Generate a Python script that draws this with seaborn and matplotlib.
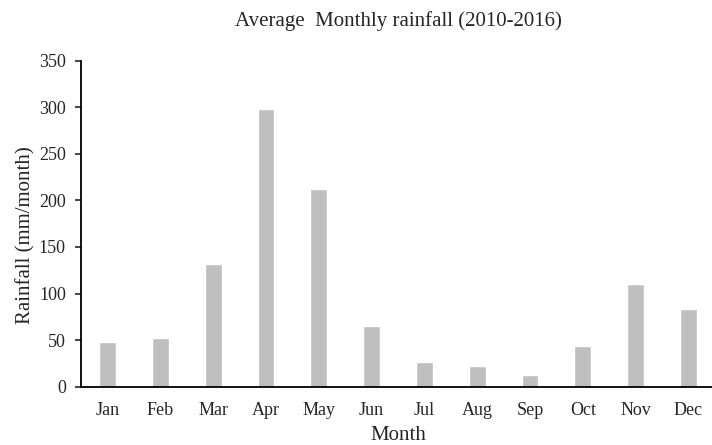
import matplotlib
matplotlib.use("Agg")
import matplotlib.pyplot as plt
import seaborn as sns
import pandas as pd

# Average monthly rainfall (mm/month), 2010-2016
thang = ["Jan", "Feb", "Mar", "Apr", "May", "Jun",
         "Jul", "Aug", "Sep", "Oct", "Nov", "Dec"]
luong_mua = [47.5, 52.5, 131.5, 298.5, 212.5, 65.5,
             27, 22, 13, 43.5, 110, 83]

df = pd.DataFrame({"Month": thang, "Rainfall": luong_mua})

sns.set_style("white")
plt.rcParams["font.family"] = ["Liberation Serif", "DejaVu Serif"]

fig = plt.figure(figsize=(7.12, 4.45), dpi=100)
ax = fig.add_axes([0.114, 0.131, 0.89, 0.733])

sns.barplot(data=df, x="Month", y="Rainfall", color="#bfbfbf",
            saturation=1, width=0.32, ax=ax)

ax.set_ylim(0, 350)
ax.set_yticks(range(0, 351, 50))
ax.set_xlim(-0.5, 11.5)
ax.set_title("Average  Monthly rainfall (2010-2016)", fontsize=15, pad=25)
ax.set_xlabel("Month", fontsize=15, labelpad=5)
ax.set_ylabel("Rainfall (mm/month)", fontsize=15)
ax.yaxis.set_label_coords(-0.072, 0.465)
ax.tick_params(axis="y", length=4, width=1.2, direction="out", left=True,
               labelsize=13, pad=7)
ax.tick_params(axis="x", length=0, labelsize=13, pad=11)

sns.despine(ax=ax, top=True, right=True)
for s in ["left", "bottom"]:
    ax.spines[s].set_color("black")
    ax.spines[s].set_linewidth(1.3)

fig.savefig("out.png", dpi=100)
